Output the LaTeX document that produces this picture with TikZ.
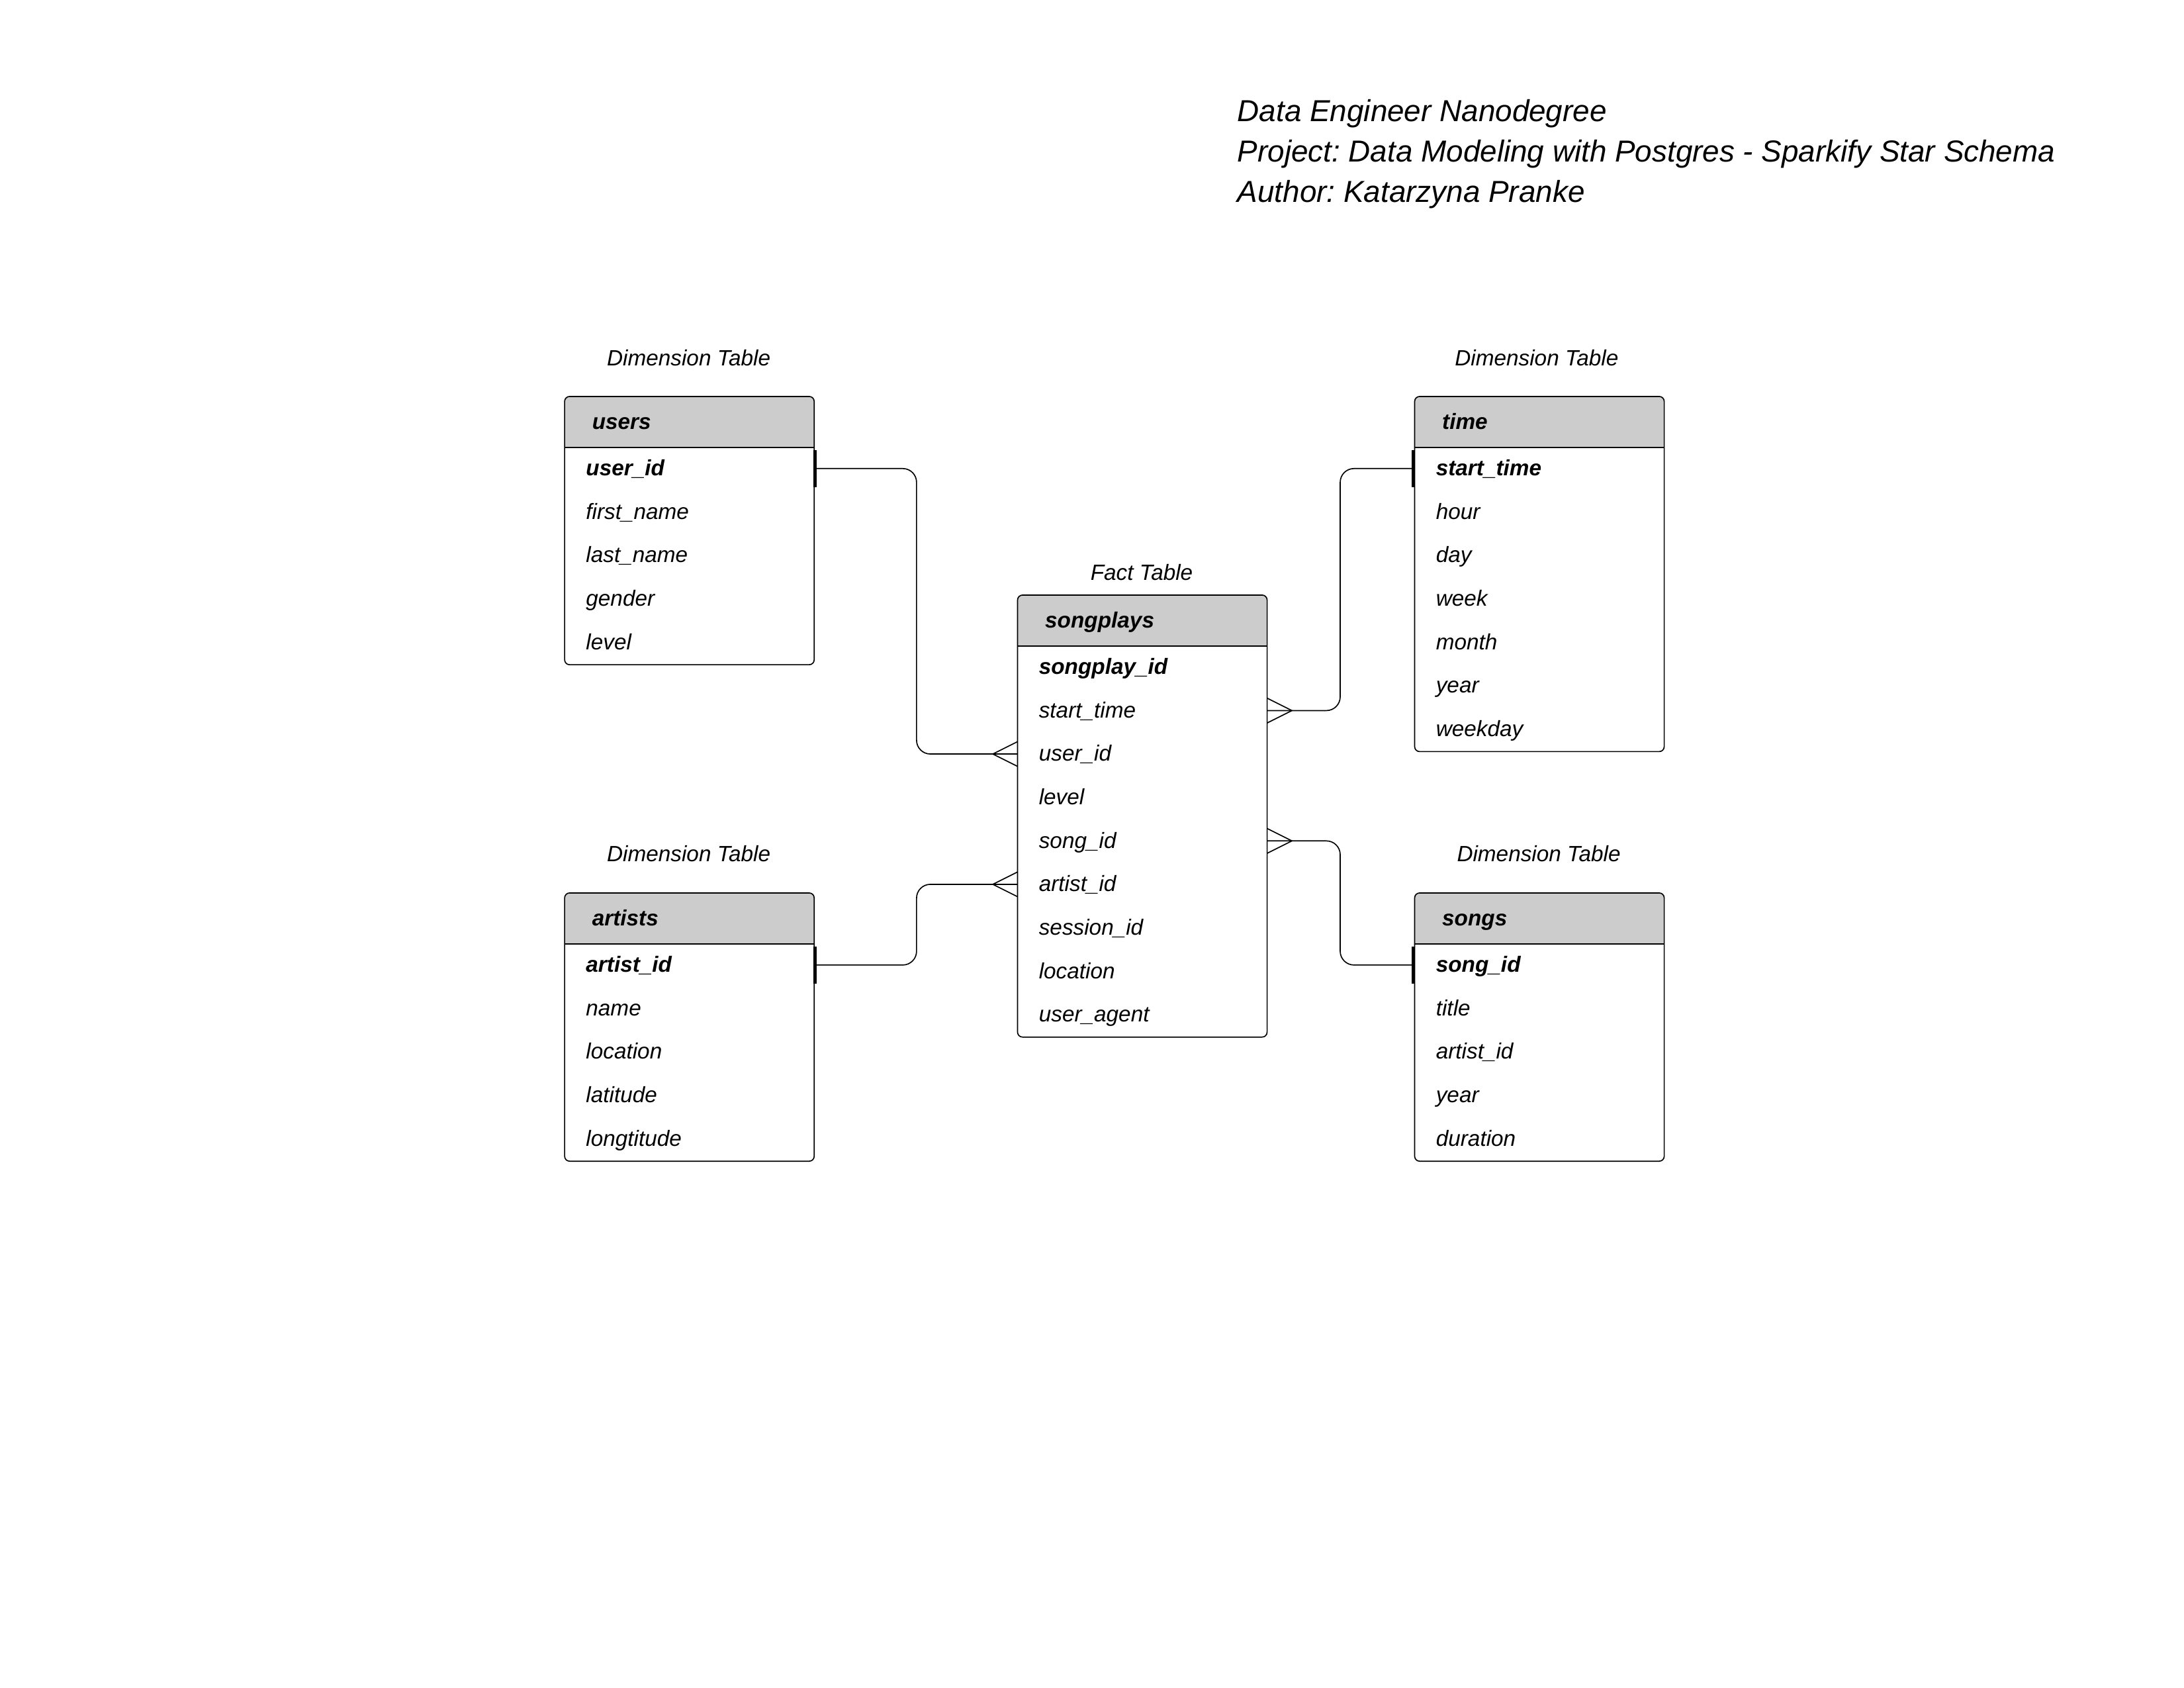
\documentclass[tikz,border=0pt]{standalone}
\usepackage{fontspec}
\setmainfont{Liberation Sans}
\frenchspacing
\definecolor{hdrgray}{RGB}{204,204,204}
\pgfdeclarelayer{background}
\pgfsetlayers{background,main}
\tikzset{every picture/.style={line width=0.5pt}}
\tikzset{
  tblhead/.style={anchor=west, minimum height=18pt, text width=70.5pt, inner xsep=9.75pt, inner ysep=0pt, text height=6.8pt, text depth=1.6pt, align=left, font=\fontsize{8}{9.6}\selectfont\bfseries\itshape},
  tblfield/.style={anchor=west, minimum height=15.75pt, text width=75pt, inner xsep=7.5pt, inner ysep=0pt, text height=6.8pt, text depth=1.6pt, align=left, font=\fontsize{8}{9.6}\selectfont\itshape},
  tblframe/.style={rounded corners=1.8pt},
  tbllabel/.style={font=\fontsize{8}{9.6}\selectfont\itshape},
  link/.style={rounded corners=5pt},
  onebar/.style={line width=1.2pt},
}

\begin{document}
\begin{tikzpicture}[x=0.75pt,y=0.75pt,yscale=-1,xscale=1]
\useasboundingbox (0,0) rectangle (1056,816);

% Text Node
\draw (598,74.4) node [anchor=west, inner sep=0pt, align=left, font=\fontsize{11}{14.6}\selectfont\itshape] (title) {Data Engineer Nanodegree\\Project: Data Modeling with Postgres - Sparkify Star Schema\\Author: Katarzyna Pranke};

% Text Node
\draw (333,173) node [tbllabel] (lbu) {Dimension Table};
% Text Node
\draw (743,173) node [tbllabel] (lbt) {Dimension Table};
% Text Node
\draw (552,276.8) node [tbllabel] (lbf) {Fact Table};
% Text Node
\draw (333,412.8) node [tbllabel] (lba) {Dimension Table};
% Text Node
\draw (744,412.8) node [tbllabel] (lbs) {Dimension Table};

%Shape: Table users
\draw (273,204) node [tblhead] (uh) {users};
\draw (273,226.5) node [tblfield] (u1) {\textbf{user\_id}};
\draw (273,247.5) node [tblfield] (u2) {first\_name};
\draw (273,268.5) node [tblfield] (u3) {last\_name};
\draw (273,289.5) node [tblfield] (u4) {gender};
\draw (273,310.5) node [tblfield] (u5) {level};

%Shape: Table time
\draw (684,204) node [tblhead] (th) {time};
\draw (684,226.5) node [tblfield] (t1) {\textbf{start\_time}};
\draw (684,247.5) node [tblfield] (t2) {hour};
\draw (684,268.5) node [tblfield] (t3) {day};
\draw (684,289.5) node [tblfield] (t4) {week};
\draw (684,310.5) node [tblfield] (t5) {month};
\draw (684,331.5) node [tblfield] (t6) {year};
\draw (684,352.5) node [tblfield] (t7) {weekday};

%Shape: Table songplays
\draw (492,300) node [tblhead] (sph) {songplays};
\draw (492,322.5) node [tblfield] (sp1) {\textbf{songplay\_id}};
\draw (492,343.5) node [tblfield] (sp2) {start\_time};
\draw (492,364.5) node [tblfield] (sp3) {user\_id};
\draw (492,385.5) node [tblfield] (sp4) {level};
\draw (492,406.5) node [tblfield] (sp5) {song\_id};
\draw (492,427.5) node [tblfield] (sp6) {artist\_id};
\draw (492,448.5) node [tblfield] (sp7) {session\_id};
\draw (492,469.5) node [tblfield] (sp8) {location};
\draw (492,490.5) node [tblfield] (sp9) {user\_agent};

%Shape: Table artists
\draw (273,444) node [tblhead] (ah) {artists};
\draw (273,466.5) node [tblfield] (a1) {\textbf{artist\_id}};
\draw (273,487.5) node [tblfield] (a2) {name};
\draw (273,508.5) node [tblfield] (a3) {location};
\draw (273,529.5) node [tblfield] (a4) {latitude};
\draw (273,550.5) node [tblfield] (a5) {longtitude};

%Shape: Table songs
\draw (684,444) node [tblhead] (sh) {songs};
\draw (684,466.5) node [tblfield] (s1) {\textbf{song\_id}};
\draw (684,487.5) node [tblfield] (s2) {title};
\draw (684,508.5) node [tblfield] (s3) {artist\_id};
\draw (684,529.5) node [tblfield] (s4) {year};
\draw (684,550.5) node [tblfield] (s5) {duration};

%Frames and header fills
\begin{pgfonlayer}{background}
\begin{scope}
\clip [tblframe] (uh.north west) rectangle (u5.south east);
\fill [hdrgray] (uh.north west) rectangle (uh.south east);
\end{scope}
\draw [tblframe] (uh.north west) rectangle (u5.south east);
\draw (uh.south west) -- (uh.south east);

\begin{scope}
\clip [tblframe] (th.north west) rectangle (t7.south east);
\fill [hdrgray] (th.north west) rectangle (th.south east);
\end{scope}
\draw [tblframe] (th.north west) rectangle (t7.south east);
\draw (th.south west) -- (th.south east);

\begin{scope}
\clip [tblframe] (sph.north west) rectangle (sp9.south east);
\fill [hdrgray] (sph.north west) rectangle (sph.south east);
\end{scope}
\draw [tblframe] (sph.north west) rectangle (sp9.south east);
\draw (sph.south west) -- (sph.south east);

\begin{scope}
\clip [tblframe] (ah.north west) rectangle (a5.south east);
\fill [hdrgray] (ah.north west) rectangle (ah.south east);
\end{scope}
\draw [tblframe] (ah.north west) rectangle (a5.south east);
\draw (ah.south west) -- (ah.south east);

\begin{scope}
\clip [tblframe] (sh.north west) rectangle (s5.south east);
\fill [hdrgray] (sh.north west) rectangle (sh.south east);
\end{scope}
\draw [tblframe] (sh.north west) rectangle (s5.south east);
\draw (sh.south west) -- (sh.south east);
\end{pgfonlayer}

%Straight Lines users -- songplays
\draw [link] (u1.east) -- ++(49.5,0) |- (sp3.west);
\draw [onebar] ([xshift=0.4pt]u1.east) ++(0,-9) -- ++(0,18);
\draw (sp3.west) ++(0,-6) -- ++(-12,6) -- ++(12,6);

%Straight Lines time -- songplays
\draw [link] (t1.west) -- ++(-36,0) |- (sp2.east);
\draw [onebar] ([xshift=-0.4pt]t1.west) ++(0,-9) -- ++(0,18);
\draw (sp2.east) ++(0,-6) -- ++(12,6) -- ++(-12,6);

%Straight Lines songs -- songplays
\draw [link] (s1.west) -- ++(-36,0) |- (sp5.east);
\draw [onebar] ([xshift=-0.4pt]s1.west) ++(0,-9) -- ++(0,18);
\draw (sp5.east) ++(0,-6) -- ++(12,6) -- ++(-12,6);

%Straight Lines artists -- songplays
\draw [link] (a1.east) -- ++(49.5,0) |- (sp6.west);
\draw [onebar] ([xshift=0.4pt]a1.east) ++(0,-9) -- ++(0,18);
\draw (sp6.west) ++(0,-6) -- ++(-12,6) -- ++(12,6);

\end{tikzpicture}
\end{document}
